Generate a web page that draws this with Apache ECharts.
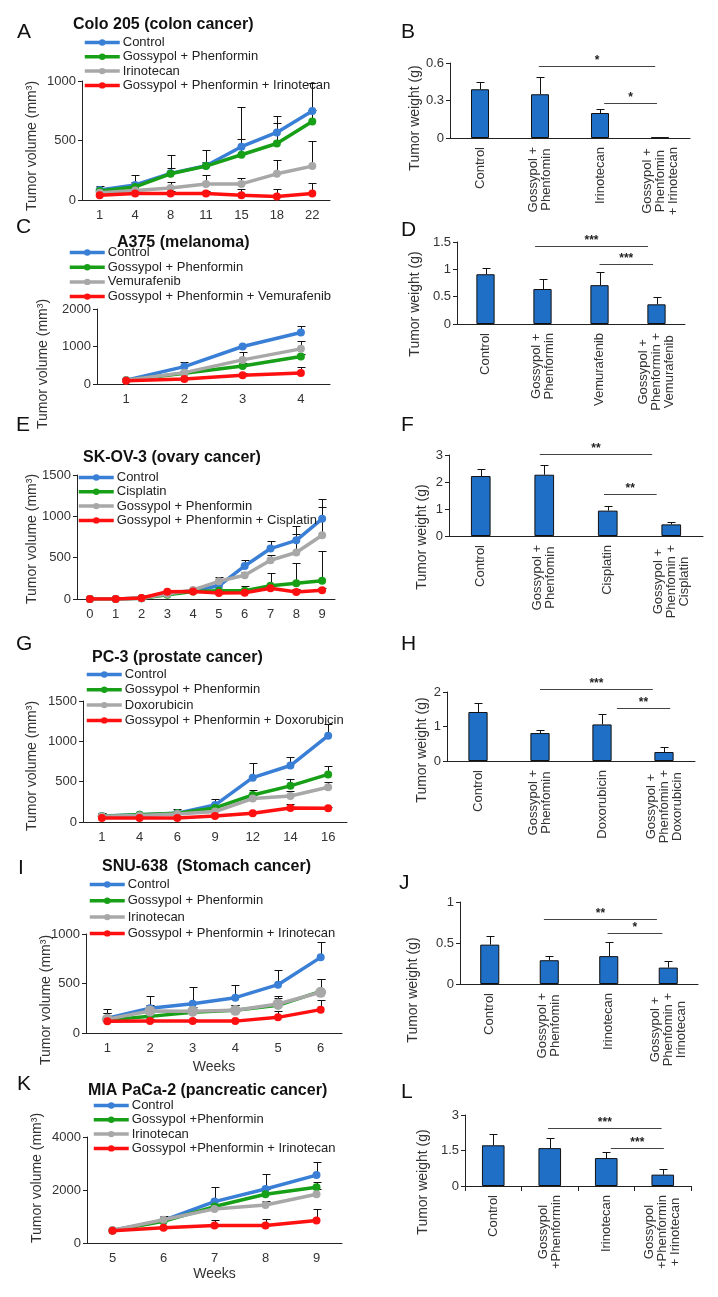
<!DOCTYPE html>
<html>
<head>
<meta charset="utf-8">
<script src="https://cdn.jsdelivr.net/npm/echarts@6/dist/echarts.min.js"></script>
<style>
  html, body { margin: 0; padding: 0; background: #fff; }
  #chart { width: 718px; height: 1297px; }
</style>
</head>
<body>
<div id="chart"></div>
<script>
// ---------- Data ----------
// A: Colo 205 tumour volume
const catA = ['1', '4', '8', '11', '15', '18', '22'];
const legA = ['Control', 'Gossypol + Phenformin', 'Irinotecan', 'Gossypol + Phenformin + Irinotecan'];
const volA = [
    [84, 126, 224, 288, 448, 568, 748],
    [75, 110, 220, 285, 380, 475, 660],
    [60, 80, 100, 135, 135, 220, 285],
    [40, 55, 55, 55, 40, 30, 55]
];
const sdA = [
    [36, 84, 156, 132, 332, 142, 232],
    [30, 40, 50, 35, 130, 175, 100],
    [20, 40, 55, 75, 50, 120, 215],
    [20, 20, 20, 20, 50, 65, 85]
];

// B: Colo 205 tumour weight
const grpB = ['Control', 'Gossypol +\nPhenfomin', 'Irinotecan', 'Gossypol +\nPhenfomin\n+ Irinotecan'];
const wtB = [0.39, 0.35, 0.2, 0.005];
const sdWtB = [0.055, 0.14, 0.03, 0];
const sigB = [[0.98, 2.92, 0.58], [2.07, 2.95, 0.28]];
const starsB = ['*', '*'];

// C: A375
const catC = ['1', '2', '3', '4'];
const legC = ['Control', 'Gossypol + Phenformin', 'Vemurafenib', 'Gossypol + Phenformin + Vemurafenib'];
const volC = [
    [100, 464, 1000, 1375],
    [100, 286, 482, 732],
    [100, 303, 643, 937],
    [89, 134, 232, 295]
];
const sdC = [
    [20, 120, 50, 170],
    [10, 30, 80, 70],
    [10, 40, 200, 220],
    [10, 20, 50, 160]
];

// D
const grpD = ['Control', 'Gossypol +\nPhenformin', 'Vemurafenib', 'Gossypol +\nPhenformin +\nVemurafenib'];
const wtD = [0.91, 0.64, 0.71, 0.36];
const sdWtD = [0.12, 0.18, 0.24, 0.14];
const sigD = [[0.87, 2.85, 1.42], [2.0, 2.94, 1.09]];
const starsD = ['***', '***'];

// E: SK-OV-3
const catE = ['0', '1', '2', '3', '4', '5', '6', '7', '8', '9'];
const legE = ['Control', 'Cisplatin', 'Gossypol + Phenformin', 'Gossypol + Phenformin + Cisplatin'];
const volE = [
    [0, 0, 10, 60, 100, 160, 400, 610, 710, 970],
    [0, 0, 10, 50, 90, 100, 100, 160, 190, 220],
    [0, 0, 10, 60, 110, 214, 287, 469, 562, 772],
    [0, 0, 12, 89, 90, 73, 75, 129, 85, 105]
];
const sdE = [
    [0, 0, 5, 10, 15, 60, 70, 90, 170, 240],
    [0, 0, 5, 10, 10, 20, 60, 160, 240, 360],
    [0, 0, 5, 10, 15, 50, 40, 60, 230, 340],
    [0, 0, 5, 10, 10, 20, 20, 40, 30, 30]
];

// F
const grpF = ['Control', 'Gossypol +\nPhenfomin', 'Cisplatin', 'Gossypol +\nPhenfomin +\nCisplatin'];
const wtF = [2.22, 2.27, 0.94, 0.43];
const sdWtF = [0.28, 0.36, 0.18, 0.08];
const sigF = [[0.93, 2.7, 3.03], [1.94, 2.77, 1.57]];
const starsF = ['**', '**'];

// G: PC-3
const catG = ['1', '4', '6', '9', '12', '14', '16'];
const legG = ['Control', 'Gossypol + Phenformin', 'Doxorubicin', 'Gossypol + Phenformin + Doxorubicin'];
const volG = [
    [75, 90, 110, 210, 550, 700, 1070],
    [70, 90, 110, 174, 335, 448, 590],
    [70, 80, 100, 130, 290, 323, 430],
    [50, 50, 50, 75, 108, 174, 170]
];
const sdG = [
    [40, 10, 50, 80, 180, 100, 140],
    [20, 10, 20, 30, 60, 80, 100],
    [20, 10, 20, 30, 40, 60, 70],
    [10, 10, 10, 20, 20, 55, 20]
];

// H
const grpH = ['Control', 'Gossypol +\nPhenfomin', 'Doxorubicin', 'Gossypol +\nPhenfomin +\nDoxorubicin'];
const wtH = [1.42, 0.81, 1.06, 0.26];
const sdWtH = [0.25, 0.1, 0.29, 0.14];
const sigH = [[1.0, 2.82, 2.08], [2.24, 3.1, 1.54]];
const starsH = ['***', '**'];

// I: SNU-638
const catI = ['1', '2', '3', '4', '5', '6'];
const legI = ['Control', 'Gossypol + Phenformin', 'Irinotecan', 'Gossypol + Phenformin + Irinotecan'];
const volI = [
    [150, 250, 296, 357, 488, 764],
    [130, 168, 209, 230, 279, 421],
    [140, 222, 220, 229, 293, 411],
    [118, 120, 120, 120, 158, 236]
];
const sdI = [
    [90, 120, 165, 130, 152, 152],
    [40, 60, 30, 50, 70, 120],
    [60, 64, 40, 57, 77, 130],
    [80, 20, 20, 20, 66, 94]
];

// J
const grpJ = ['Control', 'Gossypol +\nPhenfomin', 'Irinotecan', 'Gossypol +\nPhenfomin +\nIrinotecan'];
const wtJ = [0.48, 0.29, 0.34, 0.2];
const sdWtJ = [0.11, 0.05, 0.17, 0.08];
const sigJ = [[0.91, 2.81, 0.79], [1.98, 2.9, 0.62]];
const starsJ = ['**', '*'];

// K: MIA PaCa-2
const catK = ['5', '6', '7', '8', '9'];
const legK = ['Control', 'Gossypol +Phenformin', 'Irinotecan', 'Gossypol +Phenformin + Irinotecan'];
const volK = [
    [475, 850, 1562, 2037, 2562],
    [475, 820, 1375, 1837, 2100],
    [480, 880, 1287, 1437, 1837],
    [460, 575, 662, 662, 850]
];
const sdK = [
    [30, 170, 560, 560, 500],
    [20, 100, 200, 200, 212],
    [20, 100, 150, 150, 200],
    [20, 40, 200, 238, 437]
];

// L
const grpL = ['Control', 'Gossypol\n+Phenformin', 'Irinotecan', 'Gossypol\n+Phenformin\n+ Irinotecan'];
const wtL = [1.72, 1.6, 1.18, 0.48];
const sdWtL = [0.48, 0.44, 0.27, 0.22];
const sigL = [[0.97, 2.98, 2.46], [2.08, 3.02, 1.61]];
const starsL = ['***', '***'];

// ---------- Styles ----------
const FONT = '"Liberation Sans", Arial, sans-serif';
const COLORS = ['#3a7fd6', '#17a017', '#a8a8a8', '#ff1010'];
const BAR = '#1f6fc6';
const AXIS = '#222';
const TXT = '#333';

const option = {
    backgroundColor: '#fff',
    animation: false,
    title: [],
    legend: [],
    grid: [],
    xAxis: [],
    yAxis: [],
    series: [],
    graphic: []
};

// upper-only error bar with a cap
function errorBar(params, api) {
    const x = api.value(0);
    if (api.value(2) <= api.value(1)) return null;
    const lo = api.coord([x, api.value(1)]);
    const hi = api.coord([x, api.value(2)]);
    const cx = Math.round(lo[0]) + 0.5;
    const top = Math.round(hi[1]) + 0.5;
    return {
        type: 'group',
        children: [
            { type: 'line', shape: { x1: cx, y1: lo[1], x2: cx, y2: top }, style: { stroke: '#111', lineWidth: 1 } },
            { type: 'line', shape: { x1: cx - 4, y1: top, x2: cx + 4, y2: top }, style: { stroke: '#111', lineWidth: 1 } }
        ]
    };
}

function addLetter(txt, x, y) {
    option.title.push({
        text: txt, left: x, top: y, padding: 0,
        textStyle: { fontSize: 21, fontWeight: 'normal', color: '#111', fontFamily: FONT }
    });
}

function addYName(txt, x, y) {
    option.graphic.push({
        type: 'text', x: x, y: y, rotation: Math.PI / 2,
        style: { text: txt, font: '14px ' + FONT, fill: TXT, align: 'center', verticalAlign: 'middle' }
    });
}

function valueAxis(gi, max, interval) {
    return {
        gridIndex: gi, type: 'value', min: 0, max: max, interval: interval,
        splitLine: { show: false },
        axisLine: { show: true, lineStyle: { color: AXIS, width: 1 } },
        axisTick: { show: true, length: 4, lineStyle: { color: AXIS } },
        axisLabel: {
            color: TXT, fontSize: 13, fontFamily: FONT, margin: 6,
            formatter: function (v) { return String(v); }
        }
    };
}

function linePanel(p) {
    const gi = option.grid.length;
    option.grid.push({ left: p.grid[0], top: p.grid[1], width: p.grid[2], height: p.grid[3], outerBoundsMode: 'none' });
    option.xAxis.push({
        gridIndex: gi, type: 'category', data: p.cats, boundaryGap: true,
        axisLine: { lineStyle: { color: AXIS, width: 1 } },
        axisTick: { show: false },
        axisLabel: { color: TXT, fontSize: 13, fontFamily: FONT, margin: 9, interval: 0 },
        name: p.xName || '', nameLocation: 'middle', nameGap: p.xNameGap || 25,
        nameTextStyle: { color: TXT, fontSize: 14, fontFamily: FONT }
    });
    option.yAxis.push(valueAxis(gi, p.max, p.interval));
    p.names.forEach(function (n, i) {
        option.series.push({
            type: 'custom', xAxisIndex: gi, yAxisIndex: gi, renderItem: errorBar, silent: true, z: 2,
            data: p.means[i].map(function (m, j) { return [j, m, m + p.sds[i][j]]; })
        });
    });
    p.names.forEach(function (n, i) {
        option.series.push({
            name: p.key + '|' + n, type: 'line', xAxisIndex: gi, yAxisIndex: gi, data: p.means[i],
            symbol: 'circle', symbolSize: (p.sym && p.sym[i]) || 8, z: 3 + i,
            lineStyle: { width: 3.5, color: COLORS[i] },
            itemStyle: { color: COLORS[i] }
        });
    });
    option.legend.push({
        orient: 'vertical', left: p.legend[0], top: p.legend[1], padding: 0,
        itemWidth: 35, itemHeight: 8, itemGap: p.legend[2], selectedMode: false,
        lineStyle: { width: 3.5 },
        data: p.names.map(function (n) { return p.key + '|' + n; }),
        formatter: function (name) { return name.split('|')[1]; },
        textStyle: { fontSize: 13, color: '#222', fontFamily: FONT, lineHeight: 13, padding: [0, 0, 0, -2] }
    });
    option.title.push({
        text: p.title, left: p.titlePos[0], top: p.titlePos[1], padding: 0,
        textStyle: { fontSize: 16, fontWeight: 'bold', color: '#111', fontFamily: FONT }
    });
    addLetter(p.key, p.letter[0], p.letter[1]);
    addYName('Tumor volume (mm³)', p.yName[0], p.yName[1]);
}

function barPanel(p) {
    const gi = option.grid.length;
    option.grid.push({ left: p.grid[0], top: p.grid[1], width: p.grid[2], height: p.grid[3], outerBoundsMode: 'none' });
    option.xAxis.push({
        gridIndex: gi, type: 'category', data: p.cats, boundaryGap: true,
        axisLine: { lineStyle: { color: AXIS, width: 1 } },
        axisTick: { show: !!p.ticks, length: 5, lineStyle: { color: AXIS } },
        axisLabel: {
            rotate: 90, interval: 0, margin: 9, color: TXT, fontSize: 13, fontFamily: FONT,
            formatter: function (v) {
                return v.split('\n').map(function (s) { return '{c|' + s + '}'; }).join('\n');
            },
            rich: { c: { align: 'center', fontSize: 13, fontFamily: FONT, color: TXT, lineHeight: 13 } }
        }
    });
    option.yAxis.push(valueAxis(gi, p.max, p.interval));
    option.series.push({
        type: 'bar', xAxisIndex: gi, yAxisIndex: gi, data: p.means, barWidth: p.barWidth, z: 2,
        itemStyle: { color: BAR, borderColor: '#111', borderWidth: 1 }
    });
    option.series.push({
        type: 'custom', xAxisIndex: gi, yAxisIndex: gi, renderItem: errorBar, silent: true, z: 3,
        data: p.means.map(function (m, j) { return [j, m, m + p.sds[j]]; })
    });
    option.series.push({
        type: 'custom', xAxisIndex: gi, yAxisIndex: gi, silent: true, z: 4,
        data: p.sig,
        renderItem: function (params, api) {
            const y = api.value(2);
            const band = api.size([1, 0])[0];
            const p0 = api.coord([0, y]);
            const x1 = p0[0] + api.value(0) * band;
            const x2 = p0[0] + api.value(1) * band;
            const yy = Math.round(p0[1]) + 0.5;
            return {
                type: 'group',
                children: [
                    { type: 'line', shape: { x1: x1, y1: yy, x2: x2, y2: yy }, style: { stroke: '#444', lineWidth: 1 } },
                    {
                        type: 'text',
                        style: {
                            text: p.stars[params.dataIndex], x: (x1 + x2) / 2, y: yy - 6,
                            align: 'center', verticalAlign: 'middle', font: 'bold 12px ' + FONT, fill: '#222'
                        }
                    }
                ]
            };
        }
    });
    addLetter(p.key, p.letter[0], p.letter[1]);
    addYName('Tumor weight (g)', p.yName[0], p.yName[1]);
}

// ---------- Panels ----------
linePanel({ key: 'A', cats: catA, names: legA, means: volA, sds: sdA, max: 1000, interval: 500,
    grid: [82, 81, 248, 119], legend: [83, 36, 1.3], title: 'Colo 205 (colon cancer)', titlePos: [73, 17],
    letter: [17, 22], yName: [32, 146] });
barPanel({ key: 'B', cats: grpB, means: wtB, sds: sdWtB, sig: sigB, stars: starsB, max: 0.6, interval: 0.3,
    grid: [450, 63, 240, 75], barWidth: '30%', letter: [401, 22], yName: [415, 118] });

linePanel({ key: 'C', cats: catC, names: legC, means: volC, sds: sdC, max: 2000, interval: 1000,
    grid: [97, 309, 233, 75], legend: [68, 246, 1.7], title: 'A375 (melanoma)', titlePos: [117, 235],
    letter: [16, 217], yName: [43, 364] });
barPanel({ key: 'D', cats: grpD, means: wtD, sds: sdWtD, sig: sigD, stars: starsD, max: 1.5, interval: 0.5,
    grid: [457, 242, 228, 82], barWidth: '32%', letter: [401, 220], yName: [415, 304] });

linePanel({ key: 'E', cats: catE, names: legE, means: volE, sds: sdE, max: 1500, interval: 500,
    grid: [77, 475, 258, 124], legend: [77, 471, 1.3], title: 'SK-OV-3 (ovary cancer)', titlePos: [83, 450],
    letter: [16, 415], yName: [32, 539] });
barPanel({ key: 'F', cats: grpF, means: wtF, sds: sdWtF, sig: sigF, stars: starsF, max: 3, interval: 1,
    grid: [449, 455, 254, 81], barWidth: '31%', letter: [401, 415], yName: [422, 537] });

linePanel({ key: 'G', cats: catG, names: legG, means: volG, sds: sdG, max: 1500, interval: 500,
    grid: [83, 701, 264, 121], legend: [85, 668, 2.3], title: 'PC-3 (prostate cancer)', titlePos: [92, 650],
    letter: [16, 634], yName: [32, 766] });
barPanel({ key: 'H', cats: grpH, means: wtH, sds: sdWtH, sig: sigH, stars: starsH, max: 2, interval: 1,
    grid: [447, 692, 248, 69], barWidth: '31%', letter: [401, 634], yName: [422, 750] });

linePanel({ key: 'I', cats: catI, names: legI, means: volI, sds: sdI, max: 1000, interval: 500,
    grid: [86, 934, 256, 99], legend: [88, 878, 3.3], title: 'SNU-638  (Stomach cancer)', titlePos: [102, 859],
    letter: [18, 858], yName: [46, 1000], sym: [8, 8, 11, 8], xName: 'Weeks', xNameGap: 27 });
barPanel({ key: 'J', cats: grpJ, means: wtJ, sds: sdWtJ, sig: sigJ, stars: starsJ, max: 1, interval: 0.5,
    grid: [460, 902, 238, 82], barWidth: '32%', letter: [399, 873], yName: [413, 990] });

linePanel({ key: 'K', cats: catK, names: legK, means: volK, sds: sdK, max: 4000, interval: 2000,
    grid: [87, 1137, 255, 106], legend: [92, 1099, 1.3], title: 'MIA PaCa-2 (pancreatic cancer)', titlePos: [88, 1083],
    letter: [17, 1074], yName: [37, 1178], xName: 'Weeks', xNameGap: 24 });
barPanel({ key: 'L', cats: grpL, means: wtL, sds: sdWtL, sig: sigL, stars: starsL, max: 3, interval: 1.5,
    grid: [465, 1115, 226, 71], barWidth: '40%', ticks: true, letter: [401, 1082], yName: [423, 1182] });

const chart = echarts.init(document.getElementById('chart'));
chart.setOption(option);
</script>
</body>
</html>
